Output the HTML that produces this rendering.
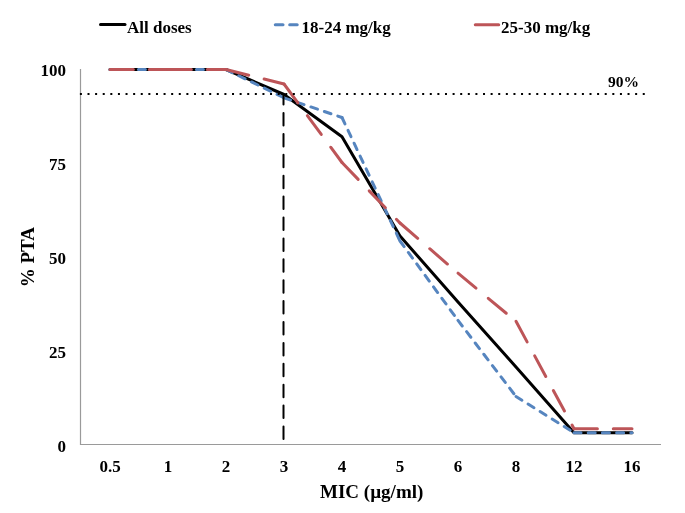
<!DOCTYPE html>
<html><head><meta charset="utf-8"><style>
html,body{margin:0;padding:0;background:#fff;width:685px;height:513px;overflow:hidden}
svg{display:block;will-change:transform}
.t{font-family:"Liberation Serif",serif;font-weight:bold;font-size:17px;fill:#000}
</style></head><body>
<svg width="685" height="513" viewBox="0 0 685 513">
<rect width="685" height="513" fill="#fff"/>
<path d="M80.5 69V444.5H661" stroke="#9a9a9a" stroke-width="1.2" fill="none"/>
<text x="66" y="75.8" text-anchor="end" class="t">100</text>
<text x="66" y="170.2" text-anchor="end" class="t">75</text>
<text x="66" y="264.3" text-anchor="end" class="t">50</text>
<text x="66" y="357.8" text-anchor="end" class="t">25</text>
<text x="66" y="452.2" text-anchor="end" class="t">0</text>
<text x="110" y="472" text-anchor="middle" class="t">0.5</text>
<text x="168" y="472" text-anchor="middle" class="t">1</text>
<text x="226" y="472" text-anchor="middle" class="t">2</text>
<text x="284" y="472" text-anchor="middle" class="t">3</text>
<text x="342" y="472" text-anchor="middle" class="t">4</text>
<text x="400" y="472" text-anchor="middle" class="t">5</text>
<text x="458" y="472" text-anchor="middle" class="t">6</text>
<text x="516" y="472" text-anchor="middle" class="t">8</text>
<text x="574" y="472" text-anchor="middle" class="t">12</text>
<text x="632" y="472" text-anchor="middle" class="t">16</text>
<polyline points="110,69.5 168,69.5 226,69.5 284,94.5 342,136.7 400,236.0 458,302.0 516,367.0 574,432.7 632,432.7" stroke="#000" stroke-width="3" stroke-linejoin="round" stroke-linecap="round" fill="none"/>
<g stroke="#5685BF" stroke-width="3" stroke-linecap="round" stroke-dasharray="7 7.2" fill="none"><line x1="110" y1="69.5" x2="168" y2="69.5"/><line x1="168" y1="69.5" x2="226" y2="69.5"/><line x1="226" y1="69.5" x2="284" y2="97.8"/><line x1="284" y1="97.8" x2="342" y2="117.5"/><line x1="342" y1="117.5" x2="400" y2="241.0"/><line x1="400" y1="241.0" x2="458" y2="320.4"/><line x1="458" y1="320.4" x2="516" y2="396.5"/><line x1="516" y1="396.5" x2="574" y2="432.7"/><line x1="574" y1="432.7" x2="632" y2="432.7"/></g>
<g stroke="#BD5558" stroke-width="3" stroke-linecap="round" stroke-dasharray="23.4 15.9" fill="none"><line x1="110" y1="69.5" x2="168" y2="69.5"/><line x1="168" y1="69.5" x2="226" y2="69.5"/><line x1="226" y1="69.5" x2="284" y2="84.0"/><line x1="284" y1="84.0" x2="342" y2="162.5"/><line x1="342" y1="162.5" x2="400" y2="223.0"/><line x1="400" y1="223.0" x2="458" y2="273.2"/><line x1="458" y1="273.2" x2="516" y2="321.3"/><line x1="516" y1="321.3" x2="574" y2="428.7"/><line x1="574" y1="428.7" x2="632" y2="428.7"/></g>
<line x1="79.9" y1="93.9" x2="645" y2="93.9" stroke="#000" stroke-width="2" stroke-dasharray="2 5.606"/>
<line x1="283.5" y1="439" x2="283.5" y2="94" stroke="#000" stroke-width="2" stroke-linecap="round" stroke-dasharray="12.5 8.4"/>
<text x="608" y="86.6" class="t" style="font-size:15.5px">90%</text>
<line x1="100.5" y1="24.6" x2="125" y2="24.6" stroke="#000" stroke-width="3" stroke-linecap="round"/>
<text x="127" y="32.7" class="t">All doses</text>
<g stroke="#5685BF" stroke-width="3" stroke-linecap="round"><line x1="275.3" y1="24.8" x2="283" y2="24.8"/><line x1="289.7" y1="24.8" x2="297.2" y2="24.8"/></g>
<text x="301.5" y="32.7" class="t">18-24 mg/kg</text>
<line x1="475.3" y1="24.8" x2="498.7" y2="24.8" stroke="#BD5558" stroke-width="3" stroke-linecap="round"/>
<text x="501" y="32.7" class="t">25-30 mg/kg</text>
<text x="371.7" y="497.9" text-anchor="middle" class="t" style="font-size:19px">MIC (µg/ml)</text>
<text transform="translate(34.2,257.1) rotate(-90)" text-anchor="middle" class="t" style="font-size:19px">% PTA</text>
</svg>
</body></html>
